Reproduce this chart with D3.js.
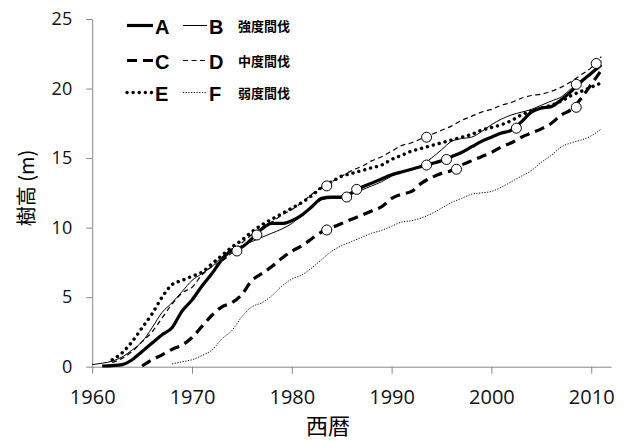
<!DOCTYPE html>
<html><head><meta charset="utf-8">
<script src="https://cdn.jsdelivr.net/npm/d3@7"></script>
<style>
html,body{margin:0;padding:0;background:#fff;}
svg{display:block;}
</style></head>
<body>
<svg id="chart" width="637" height="441"></svg>
<script>
// ---- data ----
const xTicks = [1960, 1970, 1980, 1990, 2000, 2010];
const yTicks = [0, 5, 10, 15, 20, 25];

const yearsA = d3.range(1961, 2012);
const valuesA = [0.05,0.08,0.15,0.5,1.1,1.7,2.3,2.8,4.0,4.8,5.8,6.7,7.7,8.4,8.6,9.2,9.9,10.3,10.3,10.5,10.9,11.5,12.1,12.2,12.2,12.5,12.9,13.2,13.5,13.8,14.0,14.2,14.4,14.6,14.8,15.1,15.4,15.8,16.2,16.5,16.8,17.0,17.6,18.3,18.6,18.7,19.2,19.8,20.5,21.1,21.7];

const yearsB = d3.range(1960, 2012);
const valuesB = [0.15,0.25,0.4,0.7,1.2,1.8,2.8,3.9,4.6,5.4,6.2,6.7,7.2,7.9,8.4,8.7,9.0,9.3,9.6,9.9,10.3,10.9,11.5,12.0,12.1,12.1,12.4,12.7,13.0,13.3,13.7,14.0,14.2,14.5,15.0,15.6,16.2,16.4,16.5,16.9,17.4,17.8,18.1,18.3,18.5,18.8,19.1,19.4,20.0,20.6,21.1,22.0];

const yearsC = d3.range(1965, 2012);
const valuesC = [0.05,0.5,0.85,1.25,1.55,2.1,2.9,3.7,4.3,4.6,5.2,6.2,6.7,7.2,7.8,8.3,8.7,9.2,9.7,10.0,10.3,10.6,10.9,11.2,11.5,12.1,12.4,12.6,13.2,13.6,13.9,14.1,14.5,14.8,15.1,15.4,15.8,16.1,16.5,16.8,17.1,17.5,18.1,18.5,19.3,20.3,21.3];

const yearsD = d3.range(1962, 2012);
const valuesD = [0.3,0.6,1.1,1.8,2.5,3.5,4.5,5.3,5.7,6.6,7.2,7.6,8.2,8.9,9.5,10.0,10.4,10.9,11.3,11.8,12.4,12.9,13.3,13.7,14.1,14.4,14.8,15.1,15.5,15.9,16.1,16.4,16.7,17.0,17.3,17.7,18.0,18.3,18.5,18.8,19.0,19.3,19.5,19.6,19.8,20.1,20.5,21.0,21.5,22.3];

const yearsE = d3.range(1962, 2012);
const valuesE = [0.5,1.0,1.8,2.8,3.8,5.0,5.9,6.2,6.5,6.8,7.4,8.0,8.6,9.1,9.7,10.2,10.6,11.0,11.4,11.8,12.3,12.9,13.3,13.7,13.9,14.1,14.3,14.5,14.9,15.2,15.5,15.7,15.9,16.1,16.3,16.5,16.7,17.0,17.2,17.4,17.7,18.1,18.4,18.6,18.8,19.1,19.5,19.8,20.1,20.4];

const yearsF = d3.range(1968, 2012);
const valuesF = [0.2,0.35,0.5,0.8,1.2,2.0,2.6,3.6,4.3,4.6,5.1,5.8,6.3,6.6,7.1,7.7,8.3,8.7,9.0,9.3,9.6,9.8,10.1,10.4,10.5,10.7,11.0,11.4,11.8,12.1,12.4,12.5,12.6,12.9,13.3,13.7,14.1,14.7,15.2,15.8,16.1,16.3,16.6,17.1];

const markerYears = [1974.5,1976.5,1983.5,1983.5,1985.5,1986.5,1993.5,1993.5,1995.5,1996.5,2002.5,2008.5,2008.5,2010.5];
const markerValues = [8.32,9.47,13.0,9.83,12.2,12.75,16.5,14.5,14.9,14.2,17.15,20.3,18.65,21.8];

const seriesNames = ["A","B","C","D","E","F"];
const legendLabels = ["強度間伐","中度間伐","弱度間伐"];
const xTitle = "西暦";
const yTitle = "樹高 (m)";

// ---- layout ----
const svg = d3.select("#chart");
const x = d3.scaleLinear().domain([1960, 2012]).range([92.2, 611.2]);
const y = d3.scaleLinear().domain([0, 25]).range([366.7, 19]);
const axisColor = "#888";
const fontNum = "'Open Sans', 'Noto Sans', sans-serif";

const styles = {
  A: {w: 3.2, dash: null, cap: "butt"},
  B: {w: 1, dash: null, cap: "butt"},
  C: {w: 3.2, dash: "10 6", cap: "butt"},
  D: {w: 1.2, dash: "5 3.5", cap: "butt"},
  E: {w: 3.4, dash: "0.1 6", cap: "round"},
  F: {w: 1, dash: "1.2 1.5", cap: "butt"}
};

// axes
const yAxis = svg.append("g").attr("transform", `translate(${x(1960)},0)`)
  .call(d3.axisLeft(y).tickValues(yTicks).tickSize(6).tickSizeOuter(0).tickPadding(14));
const xAxis = svg.append("g").attr("transform", `translate(0,${y(0)})`)
  .call(d3.axisBottom(x).tickValues(xTicks).tickFormat(d3.format("d")).tickSize(7).tickSizeOuter(0).tickPadding(16));
[yAxis, xAxis].forEach(g => {
  g.selectAll("path, line").attr("stroke", axisColor);
  g.selectAll("text").attr("fill", "#111").style("font-family", fontNum);
});
yAxis.selectAll("text").style("font-size", "18px");
xAxis.selectAll("text").style("font-size", "20px");

// lines
const line = d3.line().x(d => x(d[0])).y(d => y(d[1])).curve(d3.curveMonotoneX);
const data = {
  A: d3.zip(yearsA, valuesA), B: d3.zip(yearsB, valuesB), C: d3.zip(yearsC, valuesC),
  D: d3.zip(yearsD, valuesD), E: d3.zip(yearsE, valuesE), F: d3.zip(yearsF, valuesF)
};
["F","D","B","C","E","A"].forEach(k => {
  const s = styles[k];
  svg.append("path").datum(data[k]).attr("d", line)
    .attr("fill", "none").attr("stroke", "#000").attr("stroke-width", s.w)
    .attr("stroke-dasharray", s.dash).attr("stroke-linecap", s.cap)
    .attr("stroke-linejoin", "round");
});

// markers
svg.append("g").selectAll("circle").data(d3.zip(markerYears, markerValues)).join("circle")
  .attr("cx", d => x(d[0])).attr("cy", d => y(d[1])).attr("r", 5)
  .attr("fill", "#fff").attr("stroke", "#000").attr("stroke-width", 1);

// legend
const lg = svg.append("g");
const rowY = [25.5, 60.5, 92.5];
seriesNames.forEach((k, i) => {
  const col = i % 2, row = Math.floor(i / 2);
  const x0 = col === 0 ? 127 : 183, x1 = col === 0 ? 153 : 207;
  const s = styles[k];
  lg.append("line").attr("x1", x0).attr("x2", x1).attr("y1", rowY[row]).attr("y2", rowY[row])
    .attr("stroke", "#000").attr("stroke-width", s.w).attr("stroke-dasharray", s.dash)
    .attr("stroke-linecap", s.cap);
  lg.append("text").attr("x", x1 + 2).attr("y", rowY[row] + 8).text(k)
    .style("font-family", "'Liberation Sans', Arial, sans-serif").style("font-weight", "bold")
    .style("font-size", "20px");
});
legendLabels.forEach((t, i) => {
  lg.append("text").attr("x", 238).attr("y", rowY[i] + 5).text(t)
    .style("font-family", "'Noto Sans CJK JP', sans-serif").style("font-weight", "bold")
    .style("font-size", "13px");
});

// titles
svg.append("text").attr("x", 328).attr("y", 434).attr("text-anchor", "middle")
  .style("font-family", "'Noto Sans CJK JP', sans-serif").style("font-size", "22px").text(xTitle);
svg.append("text").attr("transform", "translate(34,188) rotate(-90)").attr("text-anchor", "middle")
  .style("font-family", "'Noto Sans CJK JP', sans-serif").style("font-size", "20px").text(yTitle);
</script>
</body></html>
